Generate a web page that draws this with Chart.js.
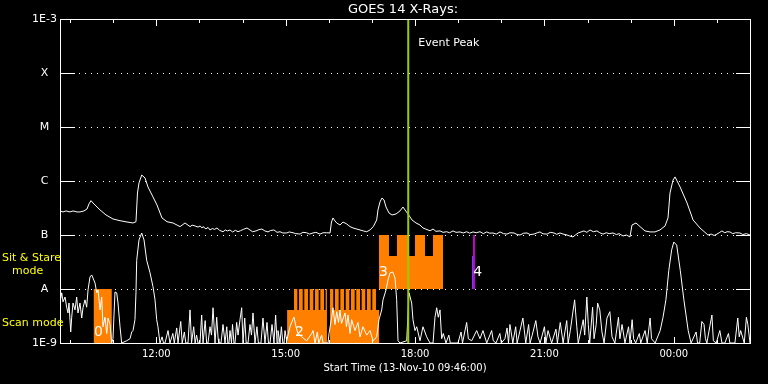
<!DOCTYPE html>
<html><head><meta charset="utf-8">
<script src="https://cdn.jsdelivr.net/npm/chart.js@4/dist/chart.umd.min.js"></script>
<style>html,body{margin:0;padding:0;background:#000;overflow:hidden}canvas{display:block}</style>
</head><body>
<canvas id="c" width="768" height="384"></canvas>
<script>
// ---------- data ----------
const titleText = 'GOES 14 X-Rays:';
const startTimeText = 'Start Time (13-Nov-10 09:46:00)';
const startClockMinutes = 9 * 60 + 46;      // 09:46
const spanMinutes = 960;                     // minutes shown after start
const xTickMinutes = [134, 314, 494, 674, 854];
const xTickLabels = ['12:00', '15:00', '18:00', '21:00', '00:00'];
const yTickValues = [1e-9, 1e-8, 1e-7, 1e-6, 1e-5, 1e-4, 1e-3];
const yTickLabels = ['1E-9', 'A', 'B', 'C', 'M', 'X', '1E-3'];

// [minutes after start, flux W/m^2]  long channel (1-8 A)
const longChannel = [
 [0,2.79e-7],[4.2,2.67e-7],[8.3,2.79e-7],[13.9,2.67e-7],[18.1,2.79e-7],[23.7,2.67e-7],[27.8,2.67e-7],[33.4,2.79e-7],
 [37.6,3.03e-7],[40.3,3.76e-7],[43.1,4.32e-7],[45.9,3.92e-7],[48.7,3.6e-7],[55.7,2.91e-7],[64,2.35e-7],[73.7,1.98e-7],
 [83.5,1.84e-7],[93.2,1.74e-7],[101.6,1.67e-7],[105.7,1.76e-7],[107.8,6.0e-7],[109.9,9.2e-7],[113.7,1.29e-6],[118.3,1.14e-6],
 [122.4,7.76e-7],[129.4,5.06e-7],[134.9,3.6e-7],[141.9,2.07e-7],[148.9,1.76e-7],[157.2,1.67e-7],[167,1.43e-7],[173.9,1.67e-7],
 [180.9,1.43e-7],[184,1.52e-7],[188,1.47e-7],[192,1.40e-7],[195,1.47e-7],[197.6,1.35e-7],[199,1.43e-7],[203,1.30e-7],[206,1.38e-7],
 [208.7,1.24e-7],[212,1.32e-7],[215,1.27e-7],[218.4,1.35e-7],[222,1.22e-7],[226.8,1.15e-7],[230,1.24e-7],[233,1.19e-7],[236.5,1.24e-7],
 [240,1.14e-7],[244,1.22e-7],[247.7,1.15e-7],[251,1.20e-7],[255,1.27e-7],[260.2,1.35e-7],[264.3,1.24e-7],[268,1.15e-7],[272.7,1.19e-7],
 [277,1.26e-7],[281,1.29e-7],[285,1.19e-7],[289.4,1.14e-7],[293,1.21e-7],[297.7,1.24e-7],[302,1.12e-7],[306.1,1.15e-7],[310,1.09e-7],
 [315.4,1.09e-7],[319,1.14e-7],[324.2,1.10e-7],[328,1.06e-7],[333.9,1.04e-7],[338,1.12e-7],[343.2,1.10e-7],[347,1.04e-7],[352,1.09e-7],
 [356,1.12e-7],[361.7,1.04e-7],[366,1.10e-7],[371.1,1.10e-7],[375.7,1.09e-7],
 [377.7,1.74e-7],[379.8,2.07e-7],[382.6,1.82e-7],[385,1.67e-7],[389.6,1.53e-7],[393.8,1.74e-7],[398.9,1.6e-7],[403.5,1.43e-7],
 [407.7,1.35e-7],[412,1.30e-7],[417.4,1.24e-7],[422,1.19e-7],[426.7,1.15e-7],[431.3,1.24e-7],[435.9,1.43e-7],[440.6,1.9e-7],[442.4,2.91e-7],[445.2,4.09e-7],
 [448,4.85e-7],[450.8,4.46e-7],[453.6,3.3e-7],[457.7,2.56e-7],[461.9,2.35e-7],[467.5,2.45e-7],[473,2.79e-7],[477.2,3.3e-7],
 [480,2.91e-7],[484.2,2.45e-7],[489.7,1.9e-7],[495.3,1.67e-7],[500.9,1.53e-7],[505,1.35e-7],[508,1.30e-7],[512,1.24e-7],[515,1.20e-7],
 [519,1.29e-7],[523,1.17e-7],[528.7,1.19e-7],[533,1.12e-7],[538,1.15e-7],[542,1.10e-7],[546.8,1.19e-7],[551,1.12e-7],[556.5,1.14e-7],
 [561,1.09e-7],[565.8,1.15e-7],[570,1.08e-7],[574.6,1.14e-7],[579,1.10e-7],[584.3,1.15e-7],[589,1.06e-7],[593.7,1.14e-7],[598,1.08e-7],
 [602.4,1.09e-7],[607,1.04e-7],[612.2,1.14e-7],[617,1.06e-7],[621.9,1.04e-7],[626,1.10e-7],[631.7,1.09e-7],[636,1.02e-7],[640,1.0e-7],
 [645,1.08e-7],[649.8,1.09e-7],[654,1.02e-7],[659.5,1.04e-7],[664,1.10e-7],[667.8,1.14e-7],[672,1.05e-7],[677.6,1.04e-7],[682,1.12e-7],
 [687.3,1.09e-7],[691,1.03e-7],[695.6,1.09e-7],[700,1.04e-7],[705.4,1.0e-7],[709,0.96e-7],[713.7,0.92e-7],[717,1.0e-7],[720.9,1.09e-7],
 [725,1.14e-7],[729,1.19e-7],[733,1.12e-7],[737.4,1.24e-7],[742,1.15e-7],[747.1,1.19e-7],[751,1.10e-7],[755.5,1.04e-7],[760,1.10e-7],
 [764,1.06e-7],[769.4,1.09e-7],[774,1.02e-7],[778,1.06e-7],[783.3,0.96e-7],[788,1.0e-7],[793,0.92e-7],[795.8,1.53e-7],[801.4,1.67e-7],
 [807,1.43e-7],[813.9,1.19e-7],[820.9,1.14e-7],[827.8,1.14e-7],[834.8,1.24e-7],[841.8,1.47e-7],[845.9,2.07e-7],[848.7,6.0e-7],
 [852.9,1.04e-6],[855.7,1.19e-6],[862.7,7.76e-7],[872.4,3.92e-7],[880.8,1.9e-7],[890.4,1.35e-7],[901.5,1.0e-7],[906,1.04e-7],
 [910,0.98e-7],[914,1.04e-7],[918,1.12e-7],[921,1.19e-7],[925,1.10e-7],[928,1.15e-7],[932.1,1.14e-7],[936,1.06e-7],[940,1.10e-7],
 [946,1.09e-7],[950,1.02e-7],[955,1.06e-7],[960,1.0e-7]
];

// [minutes after start, flux W/m^2]  short channel (0.5-4 A)
const shortChannel = [
 [0,5.5e-9],[0.7,6.3e-9],[2.4,8.5e-9],[4.2,5.8e-9],[7,7.1e-9],[9.3,4.6e-9],[11.1,3.6e-9],[12.5,5.5e-9],[14.9,1.6e-9],
 [16.3,3.0e-9],[18.1,5.5e-9],[20.9,4.1e-9],[23.2,7.1e-9],[25,3.6e-9],[27.8,5.5e-9],[30.2,2.9e-9],[32,4.5e-9],[34.8,6.3e-9],
 [37.1,4.6e-9],[39,9.6e-9],[41.7,1.67e-8],[44.1,1.82e-8],[45.9,1.6e-8],[48.7,1.29e-8],[51.1,8.5e-9],[52.9,9.6e-9],[55.7,4.1e-9],
 [58,7.1e-9],[59.8,2.0e-9],[62.6,3.0e-9],[65,1.5e-9],[66.8,2.9e-9],[69.6,2.2e-9],[71.9,1.0e-9],[73.7,1.2e-9],[76.5,8.8e-9],
 [78.9,8.5e-9],[80.7,5.5e-9],[83.5,2.0e-9],[85.8,1.0e-9],[92.8,1.1e-9],[97.4,1.2e-9],[99.8,1.6e-9],[101.6,1.7e-9],[104.3,2.7e-9],
 [105.7,8.5e-9],[106.7,3.4e-8],[109.9,8.1e-8],[113.7,1.09e-7],[116.9,8.1e-8],[120.6,3.4e-8],[125.2,2.0e-8],[129.4,1.1e-8],
 [132.2,6.3e-9],[134.5,2.7e-9],[136.3,2.0e-9],[139.1,1e-9],[142,1.3e-9],[144,1e-9],[146.1,1e-9],[150.3,1.7e-9],[153,1e-9],
 [157,1.5e-9],[159,1e-9],[162.4,1.9e-9],[164.2,1e-9],[168,2.5e-9],[170,1e-9],[173,1.6e-9],[175,1e-9],
 [178.1,1e-9],[180.9,4.1e-9],[183,1e-9],[186,2.0e-9],[188,1e-9],[190,1.4e-9],[192,1e-9],[194.8,1e-9],[197.1,3.3e-9],[199,1e-9],
 [202,2.6e-9],[204,1e-9],[205.9,1e-9],[208.7,2.0e-9],[210.8,1.4e-9],
 [212.9,4.5e-9],[215.7,1e-9],[218,3.0e-9],[220,1.2e-9],[221,1e-9],[224,1e-9],[226.8,2.2e-9],[229.6,1e-9],[232,2.0e-9],[233.5,1e-9],
 [235.1,1e-9],[236.5,1.7e-9],[238.6,1e-9],[240,2.2e-9],[242,1e-9],[243.5,1e-9],
 [245.8,2.4e-9],[247.7,1.4e-9],[250.4,2.7e-9],[252.8,4.5e-9],[254.6,1e-9],[257,2.9e-9],[259,1e-9],[261.6,1e-9],[264.3,2.2e-9],
 [266.4,1.4e-9],[268.5,3.6e-9],[271.3,1e-9],[274,2.0e-9],[276,1e-9],[279.6,1e-9],[282.4,2.9e-9],[285.2,1e-9],[288,2.4e-9],[290,1e-9],
 [292.2,1e-9],[295,2.2e-9],[297.7,1e-9],[300,3.3e-9],[302,1e-9],[303.3,1.7e-9],[306.1,1e-9],[308,2.0e-9],[310,1e-9],
 [311.7,1e-9],[313.1,1.7e-9],[315.4,1.1e-9],[320,2.0e-9],[323.8,2.7e-9],[325.6,3.0e-9],[328.3,2.0e-9],[331.1,1.5e-9],[336.3,1.3e-9],
 [343.2,1.1e-9],[350.2,1.5e-9],[352,1.7e-9],[354.8,1e-9],[358,1.6e-9],[360,1e-9],[364,1.4e-9],[366,1e-9],[372.9,1e-9],[374.3,1.5e-9],[378,3.0e-9],[379.8,4.5e-9],[382.6,2.2e-9],
 [385,3.8e-9],[387.5,2.4e-9],[389.6,4.1e-9],[391.6,2.3e-9],[396.5,3.6e-9],[398.6,2.0e-9],[400.7,3.3e-9],[403.5,1.5e-9],[405.8,2.7e-9],
 [410.4,1.7e-9],[414.6,2.4e-9],[417.4,1.3e-9],[421.5,2.0e-9],[426.7,1.4e-9],[431.3,1.7e-9],[435.5,1.1e-9],[440.6,1.3e-9],[443.8,2.7e-9],
 [447.6,4.1e-9],[449.4,6.3e-9],[453.6,9.6e-9],[456.3,1.47e-8],[459.1,1.98e-8],[462.9,2.07e-8],[466.1,1.6e-8],[468.4,6.3e-9],[470.3,1.1e-9],
 [473,1e-9],[482.4,1.1e-9],[485.6,8.5e-9],[489.3,5.5e-9],[491.1,2.7e-9],[493.9,1.7e-9],[496.3,2.0e-9],[500.9,1.1e-9],[505,2.0e-9],
 [510.2,1.3e-9],[514.8,1e-9],[519,1e-9],[521.7,3.0e-9],[524.1,4.5e-9],[526.3,3.0e-9],[528.7,4.1e-9],[531,1.2e-9],[533.3,1.5e-9],
 [537,1e-9],[541,1.4e-9],[543,1e-9],[549.6,1e-9],[553.7,1e-9],[558,1.6e-9],[560,1e-9],[565.8,2.4e-9],[568.1,1.2e-9],[572.8,1.1e-9],[579.7,1.7e-9],[584.3,1.2e-9],[588.5,1.7e-9],
 [593.7,1e-9],[600.6,1.7e-9],[602.8,1.1e-9],[606.6,1e-9],[612,1.5e-9],[614,1e-9],[619,1.2e-9],[622,1.9e-9],[624,1e-9],[626,2.2e-9],[630,1e-9],[634,2.0e-9],[636,1e-9],[640,1.7e-9],[644,2.9e-9],[648,1e-9],
 [652,2.2e-9],[654,1e-9],[657,1.4e-9],[662,2.6e-9],[665,1.3e-9],[668,1e-9],[674,2.0e-9],[676,1e-9],[679,1.7e-9],[684,1e-9],[690,1.8e-9],[692,1e-9],[696,2.4e-9],[700,1e-9],[705,2.6e-9],[707,1e-9],[710,1.7e-9],[713,3.3e-9],[716,6.3e-9],[719,2.0e-9],[721,1e-9],
 [728,2.7e-9],[730,1.4e-9],[733,7.1e-9],[735,2.2e-9],[737,1e-9],[741,4.6e-9],[743,1.2e-9],[746,2.2e-9],[748,5.5e-9],[751,4.1e-9],[754,1.6e-9],[757,1e-9],[761,2.9e-9],[765,3.8e-9],[768,1.3e-9],[772,1e-9],[777,3.0e-9],[779,1.2e-9],[782,2.2e-9],[786,1e-9],
 [791,2.0e-9],[793,1e-9],[796,2.7e-9],[798,1.2e-9],[801,1e-9],[806,1.5e-9],[808,1e-9],[814,1.7e-9],[817,1e-9],[821,2.9e-9],[823,1.2e-9],[828,1e-9],[835,1.7e-9],[839,3.0e-9],[843,6.3e-9],[847,2.2e-8],[851,5.3e-8],
 [854,7.4e-8],[858,6.5e-8],[863,2.2e-8],[868,6.3e-9],[874,1.7e-9],[878,1e-9],[885,1.6e-9],[887,1e-9],[890,1e-9],[893,2.5e-9],[896,2.2e-9],[898,1.2e-9],[900,1e-9],[904,2.0e-9],[907,3.3e-9],[909,1.1e-9],
 [913,1e-9],[918,1.7e-9],[921,1e-9],[925,1e-9],[930,1.5e-9],[932,1e-9],[939,1e-9],[943,2.9e-9],[945,1.3e-9],[947,1.7e-9],[952,1e-9],[955,3.0e-9],[957,2.2e-9],[960,1e-9]
];

// Scan mode coverage: [minutes after start, level held until next entry]
const scanMode = [
 [0,1e-9],[47,1e-8],[72,1e-9],[316,4.1e-9],[325.6,1e-8],[330.2,4.1e-9],[332.5,1e-8],[337.7,4.1e-9],[339.9,1e-8],[345.0,4.1e-9],
 [347.4,1e-8],[352.4,4.1e-9],[354.8,1e-8],[359.9,4.1e-9],[362.2,1e-8],[367.3,4.1e-9],[369.6,1e-8],[371.4,1e-9],[375.7,1e-8],
 [380.2,4.1e-9],[382.6,1e-8],[387.7,4.1e-9],[390.0,1e-8],[395.1,4.1e-9],[397.5,1e-8],[402.5,4.1e-9],[404.9,1e-8],[410.0,4.1e-9],
 [412.2,1e-8],[417.4,4.1e-9],[419.7,1e-8],[424.7,4.1e-9],[427.1,1e-8],[432.3,4.1e-9],[434.5,1e-8],[439.6,4.1e-9],[444,1e-9],[960,1e-9]
];
// Sit & Stare coverage (band from A to B)
const stareMode = [
 [0,1e-8],[443.8,1e-7],[457.7,4.1e-8],[468.8,1e-7],[485.6,4.1e-8],[493.9,1e-7],[507.8,4.1e-8],[518.9,1e-7],[532.9,1e-8],[960,1e-8]
];
const stareMagenta = [[0,1e-8],[574.6,1e-7],[577.3,1e-8],[960,1e-8]];
const stareBlue = [[0,1e-8],[573.2,4.1e-8],[574.6,1e-8],[960,1e-8]];

const eventPeakMinutes = 484.5;
const blockLabels = ['0', '2', '3', '4'];
const blockLabelAt = [[53.6,1.6e-9],[333,1.6e-9],[450,2.06e-8],[581,2.0e-8]];

// ---------- helpers ----------
const pts = arr => arr.map(p => ({x: p[0], y: p[1]}));
const FONT = 'DejaVu Sans';

const guides = {
  id: 'guides',
  beforeDatasetsDraw(chart) {
    const {ctx, chartArea: a, scales: {y}} = chart;
    ctx.save();
    ctx.fillStyle = '#fff';
    yTickValues.slice(1, -1).forEach(v => {
      const py = Math.round(y.getPixelForValue(v));
      ctx.fillRect(a.left, py, 15, 1);
      ctx.fillRect(a.right - 14, py, 14, 1);
      for (let px = a.left + 19; px < a.right - 15; px += 6) ctx.fillRect(px, py, 1, 1);
    });
    ctx.restore();
  },
  afterDatasetsDraw(chart) {
    const {ctx, chartArea: a, scales: {x}} = chart;
    ctx.save();
    ctx.strokeStyle = '#fff';
    ctx.lineWidth = 1;
    ctx.strokeRect(a.left + 0.5, a.top + 0.5, a.right - a.left, a.bottom - a.top);
    ctx.fillStyle = '#fff';
    for (let m = 14; m <= spanMinutes; m += 60) {
      const px = Math.round(x.getPixelForValue(m));
      const len = ((m - 134) % 180 === 0) ? 7 : 4;
      ctx.fillRect(px, a.top, 1, len);
      ctx.fillRect(px, a.bottom - len + 1, 1, len);
    }
    ctx.restore();
  },
  afterDraw(chart) {
    const {ctx, chartArea: a, scales: {x, y}} = chart;
    ctx.save();
    ctx.textBaseline = 'middle';
    // title
    ctx.fillStyle = '#fff';
    ctx.font = '13px "' + FONT + '"';
    ctx.textAlign = 'center';
    ctx.fillText(titleText, (a.left + a.right) / 2 - 2, a.top - 9.5);
    // event peak label
    ctx.font = '11px "' + FONT + '"';
    ctx.textAlign = 'left';
    ctx.fillText('Event Peak', x.getPixelForValue(eventPeakMinutes) + 10, a.top + 24);
    // mode labels
    const yB = y.getPixelForValue(1e-7), yA = y.getPixelForValue(1e-8);
    ctx.fillStyle = '#ffff00';
    ctx.font = '11px "' + FONT + '"';
    ctx.fillText('Sit & Stare', 2, yB + 23.5);
    ctx.fillText('mode', 12, yB + 36);
    ctx.fillText('Scan mode', 2, yA + 34.5);
    // block labels
    ctx.fillStyle = '#fff';
    ctx.font = '14px "' + FONT + '"';
    ctx.textAlign = 'center';
    blockLabels.forEach((t, i) => {
      ctx.fillText(t, x.getPixelForValue(blockLabelAt[i][0]), y.getPixelForValue(blockLabelAt[i][1]));
    });
    ctx.restore();
  }
};

new Chart(document.getElementById('c'), {
  type: 'line',
  data: {
    datasets: [
      {data: [{x: eventPeakMinutes, y: 1e-9}, {x: eventPeakMinutes, y: 1e-3}], borderColor: '#99cc00', borderWidth: 2, order: 0, pointRadius: 0},
      {data: pts(shortChannel), borderColor: '#ffffff', borderWidth: 1, order: 1, pointRadius: 0},
      {data: pts(longChannel), borderColor: '#ffffff', borderWidth: 1, order: 1, pointRadius: 0},
      {data: pts(stareMagenta), stepped: 'before', borderColor: 'rgba(0,0,0,0)', borderWidth: 0, backgroundColor: '#cc00cc', fill: {value: 1e-8}, order: 3, pointRadius: 0},
      {data: pts(stareBlue), stepped: 'before', borderColor: 'rgba(0,0,0,0)', borderWidth: 0, backgroundColor: '#5050ff', fill: {value: 1e-8}, order: 3, pointRadius: 0},
      {data: pts(stareMode), stepped: 'before', borderColor: 'rgba(0,0,0,0)', borderWidth: 0, backgroundColor: '#ff8000', fill: {value: 1e-8}, order: 4, pointRadius: 0},
      {data: pts(scanMode), stepped: 'before', borderColor: 'rgba(0,0,0,0)', borderWidth: 0, backgroundColor: '#ff8000', fill: 'start', order: 4, pointRadius: 0}
    ]
  },
  options: {
    responsive: false,
    animation: false,
    devicePixelRatio: 1,
    events: [],
    layout: {padding: {left: 0, right: 18, top: 19, bottom: 0}},
    elements: {line: {tension: 0}},
    plugins: {legend: {display: false}, tooltip: {enabled: false}},
    scales: {
      x: {
        type: 'linear', min: 0, max: spanMinutes,
        grid: {display: false, drawTicks: false}, border: {display: false},
        afterBuildTicks: s => { s.ticks = xTickMinutes.map(v => ({value: v})); },
        afterFit: s => { s.height = 41; },
        ticks: {color: '#fff', font: {family: FONT, size: 10}, padding: 5, autoSkip: false, maxRotation: 0,
                callback: (v, i) => xTickLabels[i]},
        title: {display: true, text: startTimeText, color: '#fff', font: {family: FONT, size: 10}, padding: {top: 0, bottom: 10}}
      },
      y: {
        type: 'logarithmic', min: 1e-9, max: 1e-3,
        grid: {display: false, drawTicks: false}, border: {display: false},
        afterBuildTicks: s => { s.ticks = yTickValues.map(v => ({value: v})); },
        afterFit: s => { s.width = 60; },
        ticks: {color: '#fff', font: {family: FONT, size: 11}, padding: 3, crossAlign: 'center', autoSkip: false,
                callback: (v, i) => yTickLabels[i]}
      }
    }
  },
  plugins: [guides]
});
</script>
</body></html>
